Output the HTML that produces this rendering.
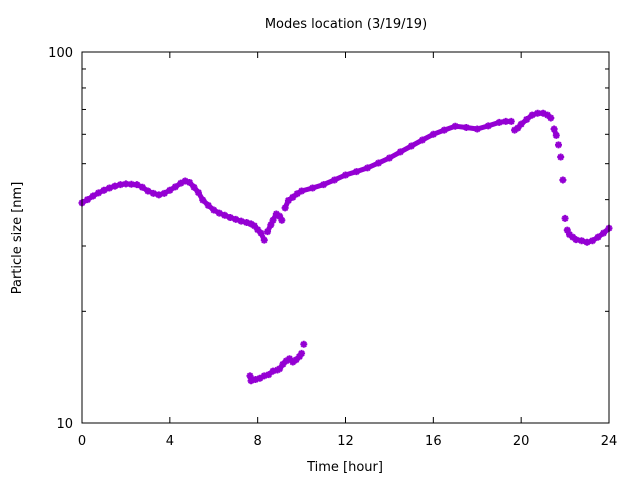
<!DOCTYPE html>
<html><head><meta charset="utf-8"><style>
body{margin:0;background:#fff;}
svg{display:block;font-family:"DejaVu Sans","Liberation Sans",sans-serif;}
</style></head><body>
<svg id="chart" width="640" height="480">
<rect width="640" height="480" fill="#fff"/>
<text x="346" y="28" font-size="13" text-anchor="middle">Modes location (3/19/19)</text>
<text x="345" y="471" font-size="13" text-anchor="middle">Time [hour]</text>
<text transform="translate(21,238) rotate(-90)" font-size="13" text-anchor="middle">Particle size [nm]</text>
<g id="axes"></g>
<g id="series"></g>
<rect x="82" y="52" width="527" height="371" fill="none" stroke="#000" stroke-width="1"/>
</svg>
<script>
const xTicks=[0,4,8,12,16,20,24];
const yMajor=[10,100];
const yMinor=[20,30,40,50,60,70,80,90];
const mainHours=[0,0.25,0.5,0.75,1,1.25,1.5,1.75,2,2.25,2.5,2.75,3,3.25,3.5,3.75,4,4.25,4.5,4.7,4.9,5.1,5.3,5.5,5.75,6,6.25,6.5,6.75,7,7.25,7.5,7.7,7.85,8,8.15,8.3,8.45,8.6,8.7,8.85,9,9.1,9.25,9.4,9.6,9.8,10,10.5,11,11.5,12,12.5,13,13.5,14,14.5,15,15.5,16,16.5,17,17.5,18,18.5,19,19.3,19.55,19.7,19.85,20,20.25,20.5,20.75,21,21.2,21.35,21.5,21.6,21.7,21.8,21.9,22,22.1,22.2,22.35,22.5,22.75,23,23.25,23.5,23.75,24];
const mainSizes=[39.2,40.0,40.9,41.7,42.4,43.0,43.5,43.9,44.1,44.0,43.9,43.2,42.2,41.6,41.2,41.6,42.4,43.3,44.3,44.9,44.5,43.2,41.8,39.9,38.6,37.5,36.8,36.3,35.8,35.4,35.0,34.7,34.4,34.0,33.2,32.5,31.1,32.8,34.2,35.2,36.6,36.1,35.2,38.0,39.8,40.6,41.5,42.2,43.0,43.9,45.2,46.6,47.6,48.7,50.2,51.8,53.8,55.8,57.9,60.0,61.6,63.1,62.6,62.0,63.2,64.6,65.0,65.0,61.6,62.4,63.9,65.8,67.6,68.4,68.4,67.6,66.4,62.0,59.6,56.2,52.1,45.2,35.6,33.1,32.2,31.7,31.2,31.0,30.7,31.0,31.7,32.5,33.5];
const lowHours=[7.65,7.7,7.9,8.1,8.3,8.5,8.7,8.9,9.0,9.15,9.3,9.45,9.6,9.75,9.9,10.0,10.1];
const lowSizes=[13.4,13.0,13.1,13.2,13.4,13.5,13.8,13.9,14.0,14.4,14.7,14.9,14.6,14.8,15.1,15.4,16.3];
const X0=82,X1=609,Y0=423,Y1=52;
const xs=t=>X0+(t/24)*(X1-X0);
const ys=v=>Y0-(Math.log10(v)-1)*(Y0-Y1);
const NS="http://www.w3.org/2000/svg";
const axes=document.getElementById('axes');
function mk(tag,attrs,parent){const e=document.createElementNS(NS,tag);for(const k in attrs)e.setAttribute(k,attrs[k]);parent.appendChild(e);return e;}
xTicks.forEach(t=>{
  const x=xs(t);
  const a=mk('line',{x1:x,x2:x,y1:Y0,y2:Y0-6,stroke:'#000'},axes);
  
  
  const b=mk('line',{x1:x,x2:x,y1:Y1,y2:Y1+6,stroke:'#000'},axes);
  
  
  const l=mk('text',{x:x,y:445,'font-size':13,'text-anchor':'middle'},axes);
  l.textContent=t;
  
  
});
yMajor.forEach(v=>{
  const y=ys(v);
  const a=mk('line',{x1:X0,x2:X0+8,y1:y,y2:y,stroke:'#000'},axes);
  
  
  const b=mk('line',{x1:X1,x2:X1-8,y1:y,y2:y,stroke:'#000'},axes);
  
  
  const l=mk('text',{x:73,y:y+5,'font-size':13,'text-anchor':'end'},axes);
  l.textContent=v;
  
  
});
yMinor.forEach(v=>{
  const y=ys(v);
  const a=mk('line',{x1:X0,x2:X0+4,y1:y,y2:y,stroke:'#000'},axes);
  
  
  const b=mk('line',{x1:X1,x2:X1-4,y1:y,y2:y,stroke:'#000'},axes);
  
  
});
const series=document.getElementById('series');
function drawSeries(hours,sizes,name,joinGap){
  const g=mk('g',{},series);
  
  
  let d='';
  for(let i=0;i<hours.length;i++){
    const x=xs(hours[i]),y=ys(sizes[i]);
    const jump=i>0&&Math.abs(y-ys(sizes[i-1]))>joinGap;
    d+=(i===0||jump?'M':'L')+x.toFixed(1)+','+y.toFixed(1)+' ';
  }
  const p=mk('path',{d:d,fill:'none',stroke:'#9400d3','stroke-width':5,'stroke-linecap':'round','stroke-linejoin':'round'},g);
  
  
  for(let i=0;i<hours.length;i++){
    const x=xs(hours[i]),y=ys(sizes[i]);
    const m=mk('path',{d:`M${x-3.5},${y}h7M${x},${y-3.5}v7M${x-2.5},${y-2.5}l5,5M${x-2.5},${y+2.5}l5,-5`,stroke:'#9400d3','stroke-width':2},g);
    
    
  }
}
drawSeries(mainHours,mainSizes,'main-mode-series',8);
drawSeries(lowHours,lowSizes,'small-mode-series',8);
</script>
</body></html>
